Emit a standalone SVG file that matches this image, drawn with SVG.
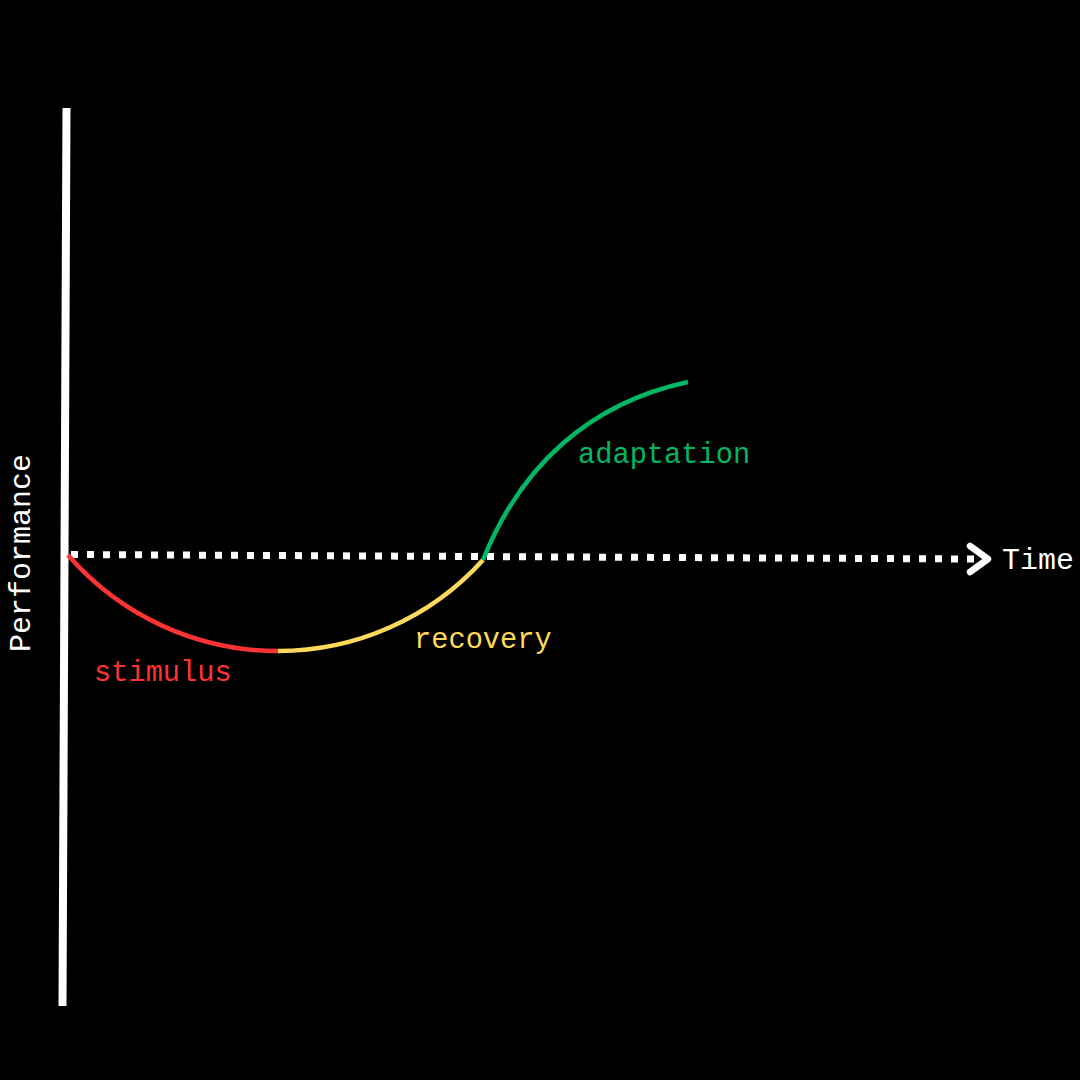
<svg xmlns="http://www.w3.org/2000/svg" width="1080" height="1080" viewBox="0 0 1080 1080">
<style>
.lbl{font-family:"Liberation Mono","DejaVu Sans Mono",monospace;font-size:28.7px}
.ax{font-size:30px}
.curve{fill:none;stroke-width:4.5}
</style>
<rect width="1080" height="1080" fill="#000"/>
<g id="axes">
<line id="y-axis" x1="66.5" y1="108" x2="62.5" y2="1006" stroke="#fff" stroke-width="8"/>
<line id="x-axis" x1="71" y1="554.5" x2="976" y2="559" stroke="#fff" stroke-width="7" stroke-dasharray="7 9"/>
<polyline points="970,546 988,559 970,572" fill="none" stroke="#fff" stroke-width="6.5" stroke-linecap="round" stroke-linejoin="round"/>
</g>
<g id="curves">
<path id="stimulus-curve" class="curve" stroke="#FF3333" d="M68 555 A278 278 0 0 0 278 651"/>
<path id="recovery-curve" class="curve" stroke="#FFDA5A" d="M278 651 A276 276 0 0 0 483 560"/>
<path id="adaptation-curve" class="curve" stroke="#00B864" d="M483 560 C521 465 590 403 688 382"/>
</g>
<g id="labels">
<text class="lbl ax" fill="#fff" transform="translate(30,652) rotate(-90)">Performance</text>
<text class="lbl ax" fill="#fff" x="1002" y="569">Time</text>
<text class="lbl" fill="#FF3333" x="94" y="681">stimulus</text>
<text class="lbl" fill="#FFDA5A" x="414" y="648">recovery</text>
<text class="lbl" fill="#00B864" x="578" y="463">adaptation</text>
</g>
</svg>
